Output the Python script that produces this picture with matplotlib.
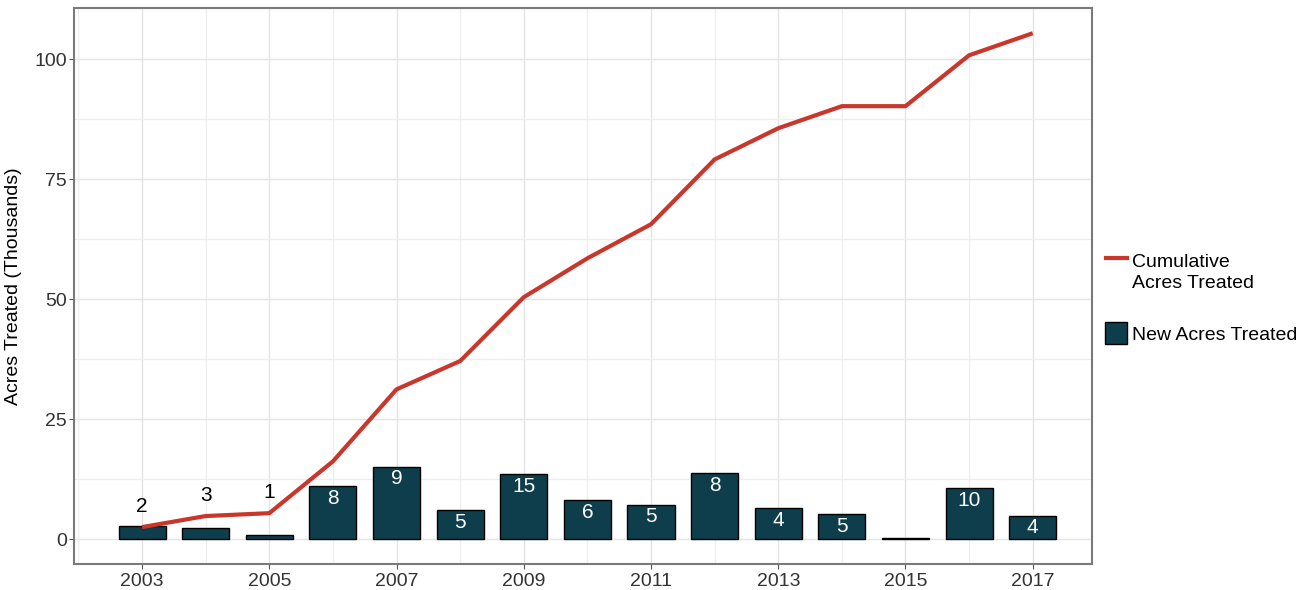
import matplotlib.pyplot as plt
from matplotlib.lines import Line2D
from matplotlib.patches import Rectangle
from matplotlib.ticker import MultipleLocator

years = [2003, 2004, 2005, 2006, 2007, 2008, 2009, 2010, 2011, 2012, 2013, 2014, 2015, 2016, 2017]
new_acres = [2.7, 2.3, 0.8, 11.0, 15.0, 6.0, 13.5, 8.1, 7.1, 13.7, 6.4, 5.2, 0.2, 10.6, 4.8]
cumulative = [2.5, 4.8, 5.4, 16.2, 31.2, 37.1, 50.4, 58.5, 65.6, 79.1, 85.6, 90.2, 90.2, 100.8, 105.4]
bar_labels = ["2", "3", "1", "8", "9", "5", "15", "6", "5", "8", "4", "5", "", "10", "4"]
tick_years = years[::2]

bar_color = "#0e3d4b"
line_color = "#c9372c"
plt.rcParams["font.family"] = ["Liberation Sans", "DejaVu Sans"]

fig = plt.figure(figsize=(13.1, 5.9), dpi=100)
ax = fig.add_axes([0.0565, 0.044, 0.777, 0.942])

ax.bar(years, new_acres, width=0.74, color=bar_color, edgecolor="black", linewidth=1.0, zorder=2)
ax.plot(years, cumulative, color=line_color, lw=3, zorder=3, solid_capstyle="butt")

for x, h, c, lab in zip(years, new_acres, cumulative, bar_labels):
    if not lab:
        continue
    if h < 4:
        ax.text(x, c + 2.3, lab, ha="center", va="bottom", color="black",
                fontsize=15, zorder=4)
    else:
        ax.text(x, h - 0.5, lab, ha="center", va="top", color="white",
                fontsize=15, zorder=4)

ax.set_xlim(2001.93, 2017.93)
ax.set_ylim(-5.2, 110.6)
ax.set_xticks(tick_years)
ax.xaxis.set_minor_locator(MultipleLocator(1))
ax.yaxis.set_major_locator(MultipleLocator(25))
ax.yaxis.set_minor_locator(MultipleLocator(12.5))
ax.grid(which="major", color="#e4e4e4", lw=1.0, zorder=0)
ax.grid(which="minor", color="#eeeeee", lw=0.9, zorder=0)
ax.set_axisbelow(True)
ax.tick_params(which="major", length=3.5, color="#555555", labelsize=14,
               labelcolor="#333333", pad=1.5)
ax.tick_params(axis="x", which="major", pad=3)
ax.tick_params(which="minor", length=0)
for s in ax.spines.values():
    s.set_color("#7a7a7a")
    s.set_linewidth(1.5)

ax.set_ylabel("Acres Treated (Thousands)", fontsize=14)
ax.yaxis.set_label_coords(-0.051, 0.5)

# legend drawn by hand, outside the panel
W, H = 1310, 590
fig.add_artist(Line2D([1106 / W, 1127 / W], [1 - 258 / H, 1 - 258 / H],
                      color=line_color, lw=3, transform=fig.transFigure))
fig.text(1132 / W, 1 - 267 / H, "Cumulative", fontsize=14, va="baseline", ha="left")
fig.text(1132 / W, 1 - 288 / H, "Acres Treated", fontsize=14, va="baseline", ha="left")
fig.add_artist(Rectangle((1105 / W, 1 - 344 / H), 22 / W, 22 / H, facecolor=bar_color,
                         edgecolor="black", lw=1.0, transform=fig.transFigure))
fig.text(1132 / W, 1 - 340 / H, "New Acres Treated", fontsize=14, va="baseline", ha="left")

fig.savefig("out.png", dpi=100)
